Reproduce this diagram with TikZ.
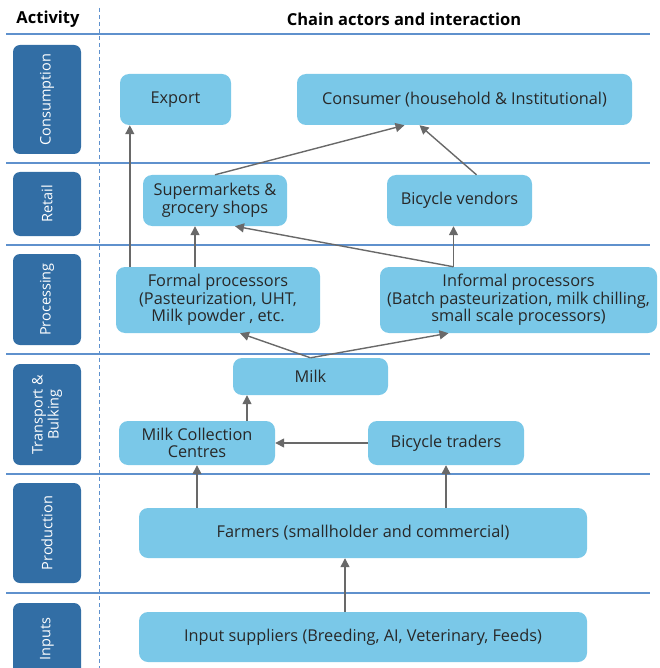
\documentclass[tikz,border=0pt]{standalone}
\usepackage{fontspec}
\setmainfont{Open Sans}
\usetikzlibrary{arrows.meta}
\definecolor{actblue}{RGB}{50,110,165}
\definecolor{boxblue}{RGB}{122,200,232}
\definecolor{rowline}{RGB}{95,145,205}
\definecolor{arrgray}{RGB}{105,105,105}
\definecolor{txt}{RGB}{40,40,40}
\tikzset{act/.style={rectangle,rounded corners=7pt,fill=actblue,text=white,rotate=90,
           minimum height=68pt,inner sep=0pt,align=center,font=\fontsize{14.5}{16}\selectfont},
         box/.style={rectangle,rounded corners=9pt,fill=boxblue,text=txt,inner sep=0pt,
           align=center,font=\fontsize{16.3}{17.5}\selectfont},
         hd/.style={font=\bfseries\fontsize{16.5}{18}\selectfont,text=black},
         row/.style={rowline,line width=1.2pt},
         arr/.style={arrgray,line width=1.4pt,-{Triangle[length=9pt,width=9pt]}}
        }

\begin{document}
\begin{tikzpicture}[x=1pt,y=-1pt]
        \useasboundingbox (0,0) rectangle (659,668);
        \clip (0,0) rectangle (659,668);

        % grid
        \node[hd] (hact) at (48,19) {Activity};
        \node[hd] (hchain) at (404,19) {Chain actors and interaction};
        \foreach \y in {34,163,245,354,474,593}
          \draw[row] (6,\y) -- (650,\y);
        \draw[rowline,line width=1pt,dash pattern=on 4pt off 3pt] (99,8) -- (99,668);

        % activities
        \node[act,minimum width=109pt] (a1) at (47,99.5) {Consumption};
        \node[act,minimum width=64pt] (a2) at (47,204) {Retail};
        \node[act,minimum width=91pt] (a3) at (47,299.5) {Processing};
        \node[act,minimum width=101pt] (a4) at (47,414.5) {Transport \&\\Bulking};
        \node[act,minimum width=100pt] (a5) at (47,533) {Production};
        \node[act,minimum width=72pt] (a6) at (47,639) {Inputs};

        % actors
        \node[box,minimum width=111pt,minimum height=51pt] (exp) at (175.5,99.5) {Export};
        \node[box,minimum width=335pt,minimum height=51pt] (cons) at (464.5,99.5) {Consumer (household \& Institutional)};
        \node[box,minimum width=144pt,minimum height=51pt] (super) at (215,200.5) {Supermarkets \&\\grocery shops};
        \node[box,minimum width=145pt,minimum height=51pt] (bike) at (459.5,200.5) {Bicycle vendors};
        \node[box,minimum width=204pt,minimum height=66pt] (formal) at (218,300) {Formal processors\\(Pasteurization, UHT,\\Milk powder , etc.};
        \node[box,minimum width=277pt,minimum height=66pt] (informal) at (518.5,300) {Informal processors\\(Batch pasteurization, milk chilling,\\small scale processors)};
        \node[box,minimum width=155pt,minimum height=37pt] (milk) at (310.5,376.5) {Milk};
        \node[box,minimum width=156pt,minimum height=44pt] (mcc) at (197,443) {Milk Collection\\Centres};
        \node[box,minimum width=156pt,minimum height=44pt] (btrad) at (446,443) {Bicycle traders};
        \node[box,minimum width=448pt,minimum height=50pt] (farm) at (363,533) {Farmers (smallholder and commercial)};
        \node[box,minimum width=448pt,minimum height=50pt] (inp) at (363,637) {Input suppliers (Breeding, AI, Veterinary, Feeds)};

        % flows
        \coordinate (fp) at ([xshift=14pt]formal.north west);
        \coordinate (ip) at ([xshift=-65pt]informal.north);
        \draw[arr] (fp) -- (fp |- exp.south);
        \draw[arr] ([xshift=-23pt]formal.north) -- ([xshift=-23pt]formal.north |- super.south);
        \draw[arr] (super.north) -- ([xshift=-60pt]cons.south);
        \draw[arr] ([xshift=17pt]bike.north) -- ([xshift=-45pt]cons.south);
        \draw[arr] (ip) -- (ip |- bike.south);
        \draw[arr] (ip) -- ([xshift=20pt]super.south);
        \draw[arr] (milk.north) -- ([xshift=22pt]formal.south);
        \draw[arr] (milk.north) -- ([xshift=-70pt]informal.south);
        \draw[arr] ([xshift=50pt]mcc.north) -- ([xshift=50pt]mcc.north |- milk.south);
        \draw[arr] (btrad.west) -- (mcc.east);
        \draw[arr] (farm.north -| mcc.south) -- (mcc.south);
        \draw[arr] (farm.north -| btrad.south) -- (btrad.south);
        \draw[arr] ([xshift=-18pt]inp.north) -- ([xshift=-18pt]farm.south);
\end{tikzpicture}
\end{document}
